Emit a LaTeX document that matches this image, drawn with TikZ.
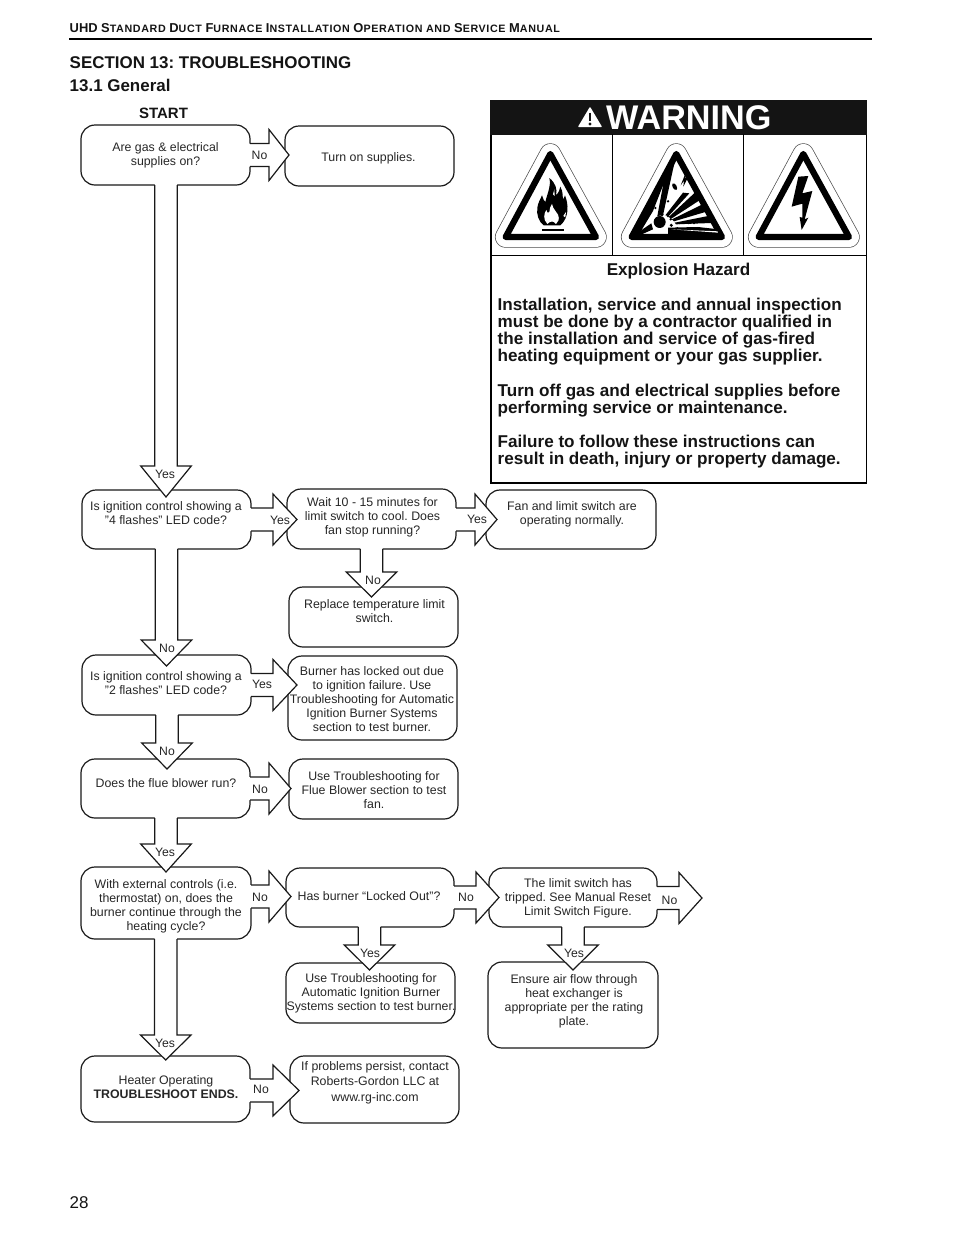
\documentclass[tikz,border=0pt]{standalone}
\usepackage{fontspec}
\setmainfont{Liberation Sans}
\frenchspacing
\newcommand\hsc[1]{{\fontsize{10.7}{10}\selectfont\addfontfeature{LetterSpace=6}#1}}
\tikzset{
  flowshape/.style={draw=black!90,line width=1.2pt,rectangle,rounded corners=14pt,inner sep=0pt,outer sep=0pt},
  flowtext/.style={align=center,inner sep=0pt,text=black!85,font=\fontsize{12.35}{14}\selectfont},
  arrowlabel/.style={inner sep=0pt,text=black!85,font=\fontsize{12.2}{14}\selectfont},
  blockline/.style={draw=black!90,line width=1.2pt,miter limit=10},
  head/.style={inner sep=0pt,anchor=base west,text=black!92,font=\bfseries\fontsize{16.95}{20}\selectfont},
  warnbody/.style={inner sep=0pt,text=black!92,font=\bfseries\fontsize{17.1}{17.2}\selectfont,align=left},
}
\newcommand\flowbox[5]{\node[flowshape,minimum width={(#4-#2)*1pt},minimum height={(#5-#3)*1pt}] (#1) at ({(#2+#4)/2},{(#3+#5)/2}) {};}
% from anchor, to anchor, centre y, tip offset, head length
\newcommand\harrow[5]{%
  \coordinate (s) at (#1 |- 0,#3);
  \coordinate (t0) at (#2 |- 0,#3);
  \coordinate (t) at ([xshift=#4pt]t0);
  \coordinate (h) at ([xshift=-#5pt]t);
  \fill[white] ([xshift=-1.6pt,yshift=11.5pt]s) -- ([yshift=11.5pt]h) -- ([yshift=25.5pt]h) -- (t) -- ([yshift=-25.5pt]h) -- ([yshift=-11.5pt]h) -- ([xshift=-1.6pt,yshift=-11.5pt]s) -- cycle;
  \draw[blockline] ([yshift=11.5pt]s) -- ([yshift=11.5pt]h) -- ([yshift=25.5pt]h) -- (t) -- ([yshift=-25.5pt]h) -- ([yshift=-11.5pt]h) -- ([yshift=-11.5pt]s);
}
\newcommand\varrow[5]{%
  \coordinate (s) at (#3,0 |- #1);
  \coordinate (t0) at (#3,0 |- #2);
  \coordinate (t) at ([yshift=-#4pt]t0);
  \coordinate (h) at ([yshift=#5pt]t);
  \fill[white] ([xshift=-11.2pt,yshift=1.6pt]s) -- ([xshift=-11.2pt]h) -- ([xshift=-25.3pt]h) -- (t) -- ([xshift=25.3pt]h) -- ([xshift=11.2pt]h) -- ([xshift=11.2pt,yshift=1.6pt]s) -- cycle;
  \draw[blockline] ([xshift=-11.2pt]s) -- ([xshift=-11.2pt]h) -- ([xshift=-25.3pt]h) -- (t) -- ([xshift=25.3pt]h) -- ([xshift=11.2pt]h) -- ([xshift=11.2pt]s);
}
\newcommand\hazardtriangle{%
  \draw[black!70,line width=21.4pt,line join=round] (175,54) -- (41,303) -- (312,303) -- cycle;
  \draw[white,line width=20pt,line join=round] (175,54) -- (41,303) -- (312,303) -- cycle;
  \fill[white] (175,54) -- (41,303) -- (312,303) -- cycle;
  \draw[black,line width=6.2pt,line join=round] (175,54) -- (41,303) -- (312,303) -- cycle;
}
\begin{document}
\begin{tikzpicture}[x=1pt,y=-1pt]
\useasboundingbox (0,0) rectangle (954,1235);

% page head
\node[inner sep=0pt,anchor=base west,text=black!92,font=\bfseries\fontsize{12.9}{14}\selectfont] (runhead) at (69.5,32)
  {UHD S\hsc{TANDARD} D\hsc{UCT} F\hsc{URNACE} I\hsc{NSTALLATION} O\hsc{PERATION AND} S\hsc{ERVICE} M\hsc{ANUAL}};
\draw[black,line width=2pt] (69,39) -- (872,39);
\node[head] (sec) at (69.5,68) {SECTION 13: TROUBLESHOOTING};
\node[head] (gen) at (69.5,91) {13.1 General};
\node[inner sep=0pt,text=black!92,font=\bfseries\fontsize{15}{16}\selectfont] (start) at (163.5,113.5) {START};
\node[inner sep=0pt,anchor=base west,text=black!92,font=\fontsize{17}{20}\selectfont] (pageno) at (69.5,1208) {28};

% warning panel
\draw[black,line width=1.5pt] (491,134) -- (491,483) -- (866.3,483) -- (866.3,134);
\fill[black!92] (490,100) rectangle (867,134.5);
\draw[black,line width=1pt] (612.5,134) -- (612.5,255);
\draw[black,line width=1pt] (743.5,134) -- (743.5,255);
\draw[black,line width=1pt] (491,255.5) -- (866,255.5);
\fill[white,draw=white,line width=1.4pt,line join=round] (590,108) -- (579,126.5) -- (601,126.5) -- cycle;
\draw[black!92,line width=2.6pt] (590,112.5) -- (590,120.5);
\fill[black!92] (590,124) circle (1.6);
\node[inner sep=0pt,anchor=base west,text=white,font=\bfseries\fontsize{34.2}{36}\selectfont] (warn) at (606,129.5) {WARNING};

% flame
\begin{scope}[shift={(492,136)},xscale=0.3333,yscale=0.3333]
  \hazardtriangle
  \fill[black] (155,268) .. controls (140,258) and (133,235) .. (136,215) .. controls (138,200) and (145,190) .. (150,178)
    .. controls (155,190) and (155,195) .. (160,198) .. controls (165,175) and (178,150) .. (172,126)
    .. controls (190,140) and (197,160) .. (192,178) .. controls (200,170) and (204,160) .. (205,152)
    .. controls (215,170) and (210,180) .. (214,190) -- (219,178) .. controls (230,205) and (232,245) .. (205,268) -- cycle;
  \fill[white] (166,264) .. controls (152,250) and (156,232) .. (163,222) .. controls (166,232) and (170,232) .. (172,228)
    .. controls (172,218) and (176,210) .. (180,204) .. controls (184,222) and (194,226) .. (198,236)
    .. controls (204,250) and (198,258) .. (192,264) .. controls (184,254) and (176,254) .. (166,264) -- cycle;
  \fill[white] (183,175) -- (187,160) -- (188,180) -- cycle;
  \fill[white] (214,240) -- (222,228) -- (220,244) -- cycle;
  \draw[black,line width=1.2pt] (150,282) -- (215,282);
\end{scope}

% explosion
\begin{scope}[shift={(618,136)},xscale=0.3333,yscale=0.3333]
  \hazardtriangle
  \begin{scope}
    \clip (175,60) -- (45,300) -- (306,300) -- cycle;
    \fill[black] (118,240) -- (145,95) -- (175,60) -- (165,100) -- (135,238) -- cycle;
    \fill[black] (105,225) -- (60,300) -- (48,300) -- (150,110) -- cycle;
    \fill[black] (142,238) -- (195,170) -- (214,172) -- (152,240) -- cycle;
    \fill[black] (152,243) -- (236,165) -- (252,188) -- (160,248) -- cycle;
    \fill[black] (162,250) -- (268,198) -- (282,222) -- (168,256) -- cycle;
    \fill[black] (170,260) -- (296,235) -- (306,260) -- (174,265) -- cycle;
    \fill[black] (150,275) -- (240,273) -- (320,282) -- (320,300) -- (150,300) -- cycle;
    \fill[white] (160,280) -- (300,286) -- (300,290) -- cycle;
    \fill[black] (60,300) -- (45,300) -- (100,262) -- (105,280) -- cycle;
    \fill[black] (188,148) -- (204,108) -- (200,126) -- (212,120) -- (196,152) -- (198,134) -- cycle;
    \fill[black,rotate around={30:(170,152)}] (170,152) ellipse (6 and 11);
    \fill[black] (125,258) circle (18);
    \foreach \px/\py/\pr in {150/196/4,112/216/4,132/236/5,150/240/4,158/250/4,185/262/3,212/260/5,228/262/3,160/268/5,178/276/3}
      \fill[black] (\px,\py) circle (\pr);
  \end{scope}
\end{scope}

% shock
\begin{scope}[shift={(745,136)},xscale=0.3333,yscale=0.3333]
  \hazardtriangle
  \fill[black] (160,122) -- (190,120) -- (172,172) -- (202,165) -- (179,250) -- (190,245) -- (170,282) -- (164,243) -- (172,245) -- (172,203) -- (140,212) -- cycle;
\end{scope}

\node[inner sep=0pt,text=black!92,font=\bfseries\fontsize{17.1}{20}\selectfont] (ehaz) at (678.5,271.5) {Explosion Hazard};
\node[warnbody,anchor=north west] (wbody) at (497.5,297.5) {Installation, service and annual inspection\\
must be done by a contractor qualified in\\
the installation and service of gas-fired\\
heating equipment or your gas supplier.\\[17.2pt]
Turn off gas and electrical supplies before\\
performing service or maintenance.\\[17.2pt]
Failure to follow these instructions can\\
result in death, injury or property damage.};

% flow boxes
\flowbox{b1}{81}{125}{250}{185}
\flowbox{b2}{285}{126}{454}{186}
\flowbox{b3}{82}{490}{251}{549}
\flowbox{b4}{287}{489}{456}{549}
\flowbox{b5}{486}{490}{656}{549}
\flowbox{b6}{289}{587}{458}{647}
\flowbox{b7}{82}{655}{251}{715}
\flowbox{b8}{288}{656}{457}{740}
\flowbox{b9}{81}{759}{250}{818}
\flowbox{b10}{289}{759}{458}{819}
\flowbox{b11}{81}{867}{251}{939}
\flowbox{b12}{286}{868}{454}{927}
\flowbox{b13}{489}{868}{657}{927}
\flowbox{b14}{286}{963}{455}{1023}
\flowbox{b15}{488}{962}{658}{1048}
\flowbox{b16}{81}{1056}{250}{1122}
\flowbox{b17}{290}{1056}{459}{1123}
\coordinate (exit) at (702,898);

% block arrows
\harrow{b1.east}{b2.west}{155}{4}{20}
\harrow{b3.east}{b4.west}{519.5}{10}{24}
\harrow{b4.east}{b5.west}{519.5}{11}{22}
\harrow{b7.east}{b8.west}{685}{9}{24}
\harrow{b9.east}{b10.west}{788.5}{2}{22}
\harrow{b11.east}{b12.west}{896.5}{5}{22}
\harrow{b12.east}{b13.west}{897.5}{10}{23}
\harrow{b13.east}{exit}{898}{0}{23}
\harrow{b16.east}{b17.west}{1090.5}{9}{26}
\varrow{b1.south}{b3.north}{166}{7}{31}
\varrow{b3.south}{b7.north}{166.5}{11}{26}
\varrow{b4.south}{b6.north}{371.5}{10}{25}
\varrow{b7.south}{b9.north}{167}{10}{26}
\varrow{b9.south}{b11.north}{166}{5}{28}
\varrow{b11.south}{b16.north}{165.7}{4}{25}
\varrow{b12.south}{b14.north}{369.5}{7}{25}
\varrow{b13.south}{b15.north}{573}{8}{25}

% box texts
\node[flowtext] (t1) at (165.5,155) {Are gas \& electrical\\supplies on?};
\node[flowtext] (t2) at (368.5,158) {Turn on supplies.};
\node[flowtext] (t3) at (166,513.5) {Is ignition control showing a\\"4 flashes" LED code?};
\node[flowtext] (t4) at (372.5,517) {Wait 10 - 15 minutes for\\limit switch to cool. Does\\fan stop running?};
\node[flowtext] (t5) at (572,514) {Fan and limit switch are\\operating normally.};
\node[flowtext] (t6) at (374.5,611.5) {Replace temperature limit\\switch.};
\node[flowtext] (t7) at (166,683.5) {Is ignition control showing a\\"2 flashes" LED code?};
\node[flowtext] (t8) at (372,699.5) {Burner has locked out due\\to ignition failure. Use\\Troubleshooting for Automatic\\Ignition Burner Systems\\section to test burner.};
\node[flowtext] (t9) at (166,783.5) {Does the flue blower run?};
\node[flowtext] (t10) at (374,790.5) {Use Troubleshooting for\\Flue Blower section to test\\fan.};
\node[flowtext] (t11) at (166,906) {With external controls (i.e.\\thermostat) on, does the\\burner continue through the\\heating cycle?};
\node[flowtext] (t12) at (369,896.5) {Has burner “Locked Out”?};
\node[flowtext] (t13) at (578,898) {The limit switch has\\tripped. See Manual Reset\\Limit Switch Figure.};
\node[flowtext] (t14) at (371,993) {Use Troubleshooting for\\Automatic Ignition Burner\\Systems section to test burner.};
\node[flowtext] (t15) at (574,1001) {Ensure air flow through\\heat exchanger is\\appropriate per the rating\\plate.};
\node[flowtext] (t16) at (166,1087.5) {Heater Operating\\\textbf{TROUBLESHOOT ENDS.}};
\node[flowtext,font=\fontsize{12.35}{15.5}\selectfont] (t17) at (375,1082.5) {If problems persist, contact\\Roberts-Gordon LLC at\\www.rg-inc.com};

% arrow labels
\node[arrowlabel] (l1) at (259.5,155) {No};
\node[arrowlabel] (l2) at (165,474) {Yes};
\node[arrowlabel] (l3) at (280,520) {Yes};
\node[arrowlabel] (l4) at (477,519) {Yes};
\node[arrowlabel] (l5) at (373,580) {No};
\node[arrowlabel] (l6) at (167,648) {No};
\node[arrowlabel] (l7) at (262,684) {Yes};
\node[arrowlabel] (l8) at (167,751) {No};
\node[arrowlabel] (l9) at (260,789) {No};
\node[arrowlabel] (l10) at (165,852) {Yes};
\node[arrowlabel] (l11) at (260,897) {No};
\node[arrowlabel] (l12) at (466,897) {No};
\node[arrowlabel] (l13) at (669.5,900) {No};
\node[arrowlabel] (l14) at (370,953) {Yes};
\node[arrowlabel] (l15) at (574,953) {Yes};
\node[arrowlabel] (l16) at (165,1043) {Yes};
\node[arrowlabel] (l17) at (261,1089) {No};
\end{tikzpicture}
\end{document}
